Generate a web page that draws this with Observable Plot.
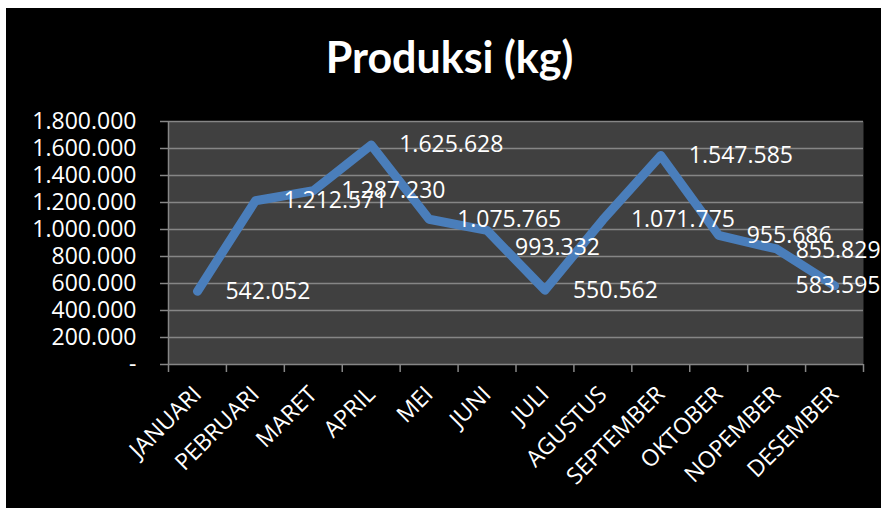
<!DOCTYPE html>
<html><head><meta charset="utf-8">
<script src="https://cdn.jsdelivr.net/npm/d3@7"></script>
<script src="https://cdn.jsdelivr.net/npm/@observablehq/plot@0.6"></script>
<style>
html,body{margin:0;padding:0;background:#fff;width:881px;height:508px;overflow:hidden}
#wrap{position:absolute;left:6px;top:8px;width:875px;height:500px;background:#000}
#title{height:100px;box-sizing:border-box;padding-top:23px;padding-left:12px;text-align:center;font:bold 43px/1.2 Lato,sans-serif;color:#fff;white-space:nowrap}
#chart svg{display:block;overflow:visible}
</style></head><body>
<div id="wrap"><div id="title">Produksi (kg)</div><div id="chart"></div></div>
<script>
const bulan = ["JANUARI","PEBRUARI","MARET","APRIL","MEI","JUNI","JULI","AGUSTUS","SEPTEMBER","OKTOBER","NOPEMBER","DESEMBER"];
const produksi = [542052,1212571,1287230,1625628,1075765,993332,550562,1071775,1547585,955686,855829,583595];
const yTicks = [0,200000,400000,600000,800000,1000000,1200000,1400000,1600000,1800000];

const locale = d3.formatLocale({decimal: ",", thousands: ".", grouping: [3], currency: ["", ""]});
const fmt = locale.format(",d");
const fmtY = v => v === 0 ? "-" : fmt(v);

const data = bulan.map((b, i) => ({bulan: b, nilai: produksi[i]}));

const W = 875, H = 400, mL = 162, mR = 18, mT = 13, mB = 144;
const step = (W - mL - mR) / bulan.length;
const grid = "#868686";
const white = "#ffffff";
const special = ["JUNI", "NOPEMBER", "DESEMBER"];
const lab = {x: "bulan", y: "nilai", text: d => fmt(d.nilai), textAnchor: "start", fill: white};

const chart = Plot.plot({
  width: W, height: H,
  marginLeft: mL, marginRight: mR, marginTop: mT, marginBottom: mB,
  style: {fontFamily: "'Open Sans', sans-serif", fontSize: "23px", background: "transparent", color: white, overflow: "visible"},
  x: {type: "point", domain: bulan, padding: 0.5, round: false, label: null},
  y: {domain: [0, 1800000], label: null},
  marks: [
    Plot.frame({fill: "#404040", stroke: null}),
    Plot.ruleY(yTicks, {stroke: grid, strokeWidth: 1.5}),
    Plot.ruleX([bulan[0]], {x: d => d, dx: -step / 2, y1: 0, y2: 1800000, stroke: grid, strokeWidth: 1.5}),
    Plot.ruleX(bulan, {x: d => d, dx: -step / 2, y1: 0, y2: 0, insetBottom: -8, stroke: grid, strokeWidth: 1.5}),
    Plot.ruleX([bulan[bulan.length - 1]], {x: d => d, dx: step / 2, y1: 0, y2: 0, insetBottom: -8, stroke: grid, strokeWidth: 1.5}),
    Plot.axisY(yTicks, {tickSize: 8, tickPadding: 24, stroke: grid, strokeWidth: 1.5, fill: white, tickFormat: fmtY, label: null}),
    Plot.axisX({tickRotate: -45, tickSize: 0, tickPadding: 26, fill: white, label: null}),
    Plot.line(data, {x: "bulan", y: "nilai", stroke: "#4a7ebb", strokeWidth: 9, strokeLinecap: "round", strokeLinejoin: "round"}),
    Plot.text(data.filter(d => !special.includes(d.bulan)), {...lab, dx: 28}),
    Plot.text(data.filter(d => d.bulan === "JUNI"), {...lab, dx: 28, dy: 17}),
    Plot.text(data.filter(d => d.bulan === "NOPEMBER"), {...lab, dx: 19, dy: 2}),
    Plot.text(data.filter(d => d.bulan === "DESEMBER"), {...lab, dx: -39})
  ]
});
document.getElementById("chart").appendChild(chart);
</script></body></html>
